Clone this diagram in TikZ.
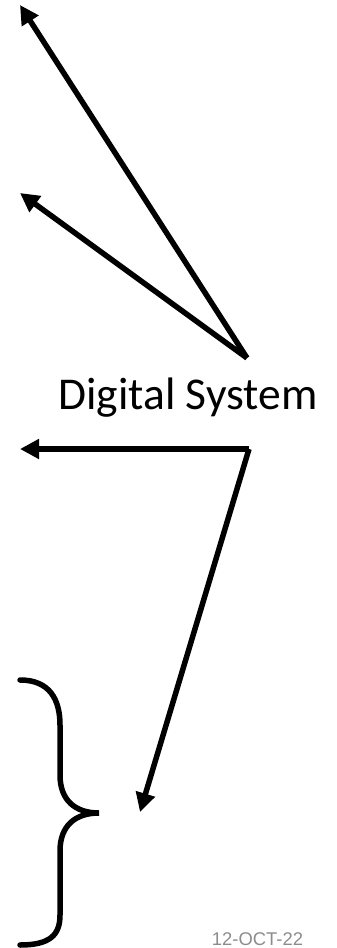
\documentclass[tikz,border=0pt]{standalone}
\usepackage{fontspec}
\setmainfont{Carlito}
\newfontfamily\datefont{Liberation Sans}
\usetikzlibrary{arrows.meta}
\begin{document}
\begin{tikzpicture}[x=1pt,y=-1pt,
  conn/.style={line width=5.5pt,-{Triangle[length=19pt,width=19pt]}},
  bracepath/.style={line width=5.5pt,line cap=round},
  label/.style={font=\fontsize{45.5}{52}\selectfont,inner sep=0pt,anchor=base},
  datelabel/.style={font=\datefont\fontsize{18.4}{22}\selectfont,text=black!45,inner sep=0pt,anchor=base}]
\useasboundingbox (0,0) rectangle (337,948);
\coordinate (v) at (247,358);
\coordinate (c) at (249,449);
\coordinate (t1) at (20,5);
\coordinate (t2) at (20,193);
\coordinate (t3) at (20,449);
\coordinate (t4) at (140,812);
\node[label] (ds) at (188,409) {Digital System};
\draw[conn] (v) -- (t1);
\draw[conn] (v) -- (t2);
\draw[conn] (c) -- (t3);
\draw[conn] (c) -- (t4);
\draw[bracepath] (20,680) .. controls (50,680) and (60,700) .. (60,725) -- (60,775)
  .. controls (60,800) and (75,813) .. (99,813)
  .. controls (75,813) and (60,826) .. (60,851) -- (60,915)
  .. controls (60,935) and (50,945) .. (20,945);
\node[datelabel] (date) at (257.5,945) {12-OCT-22};
\end{tikzpicture}
\end{document}
